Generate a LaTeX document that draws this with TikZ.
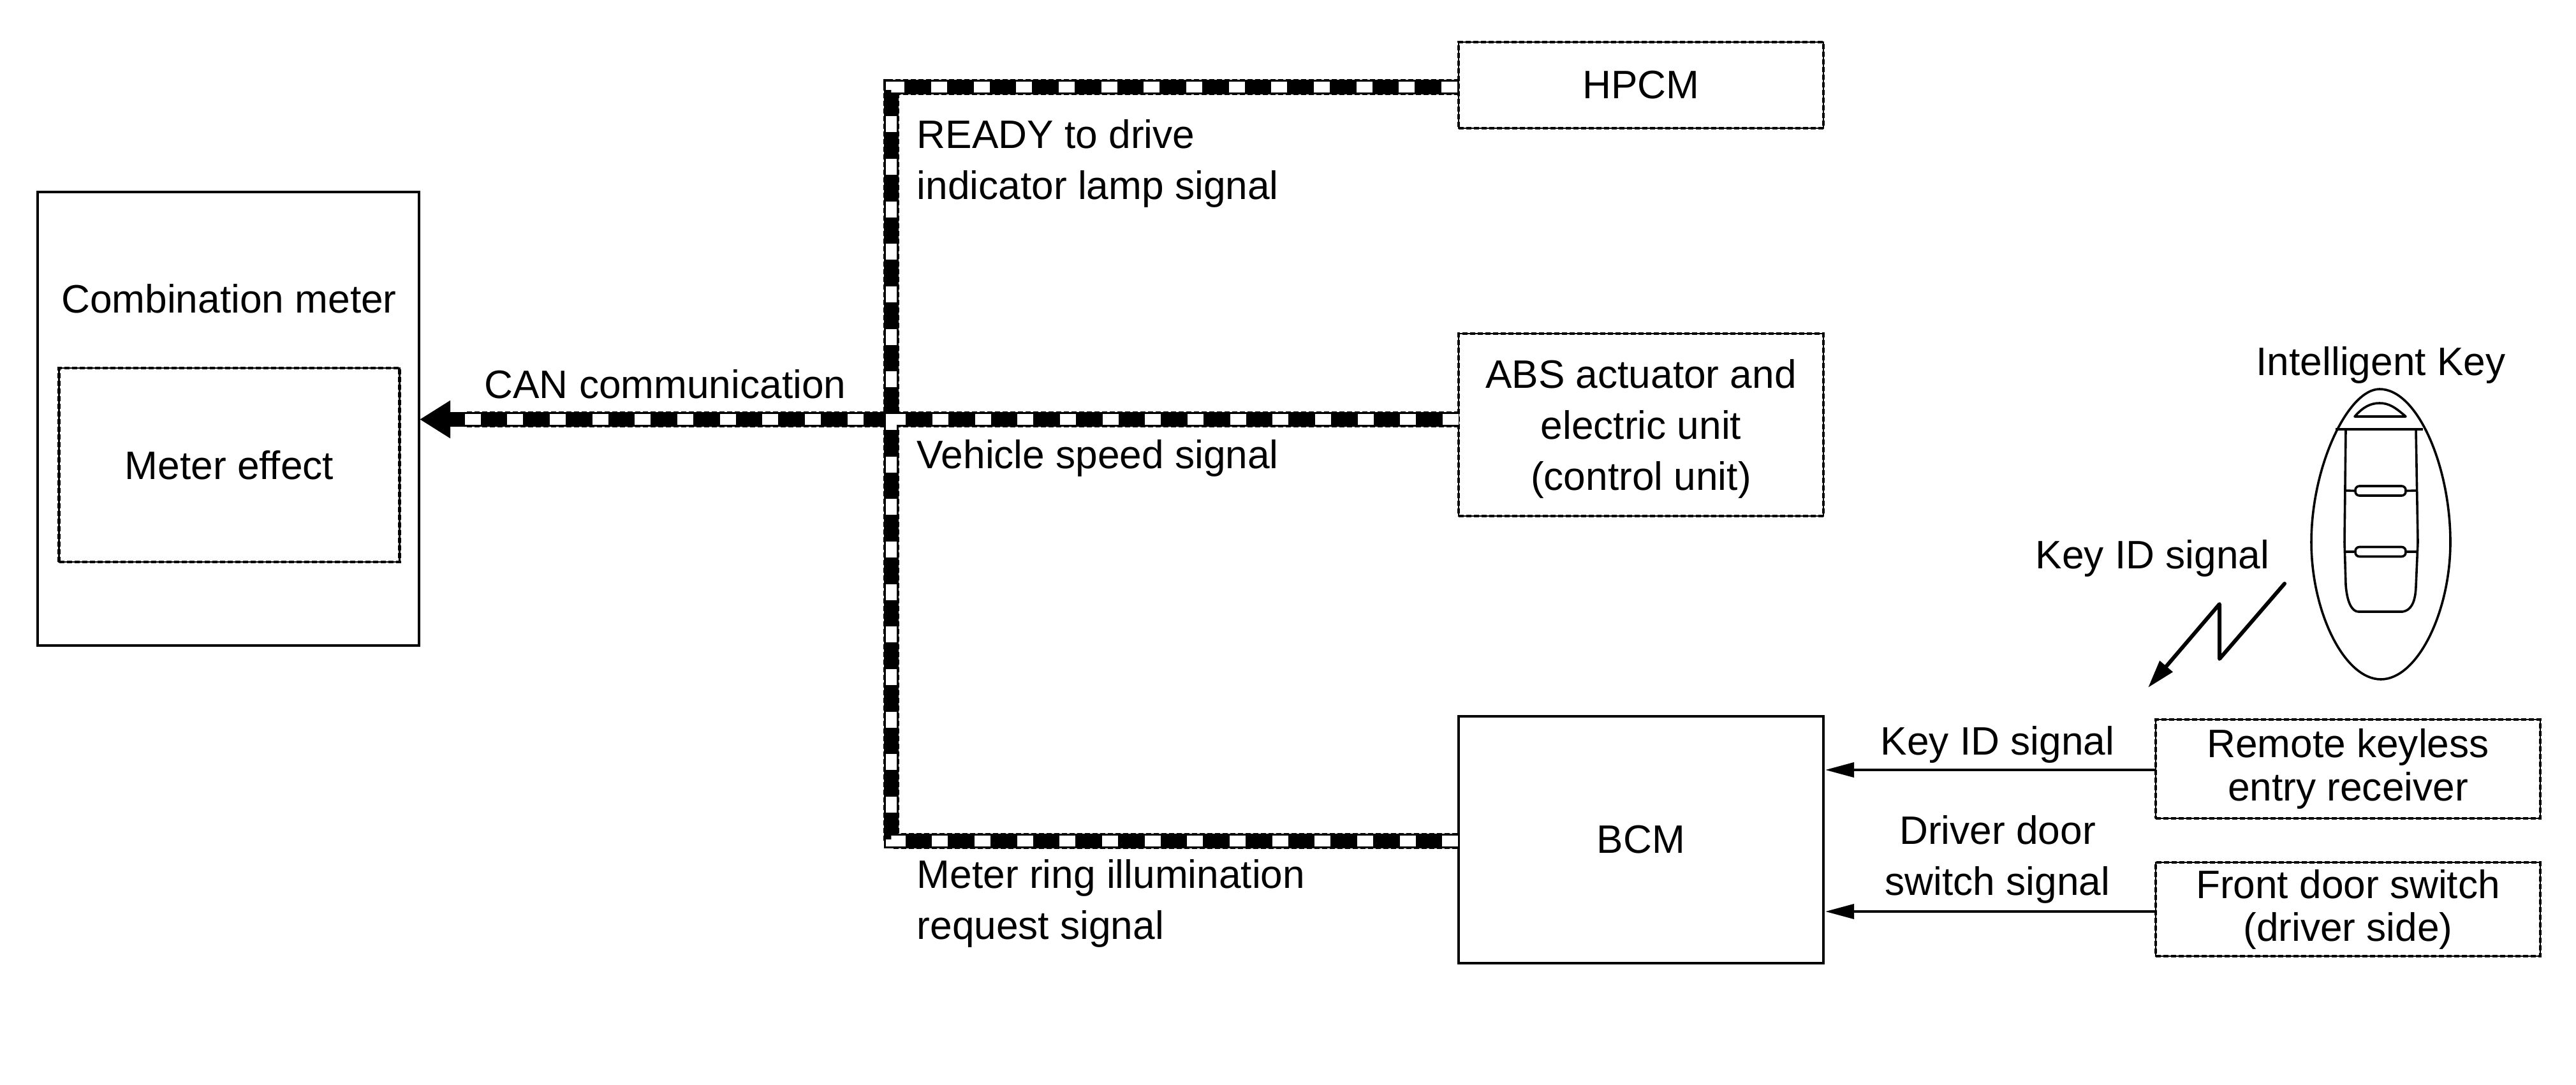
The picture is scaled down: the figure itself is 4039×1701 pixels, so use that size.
\documentclass[tikz,border=0pt]{standalone}
\usepackage{fontspec}
\setmainfont{Liberation Sans}
\usetikzlibrary{arrows.meta}
\newcommand{\bodyfont}{\fontsize{15.55}{20}\selectfont}
\newcommand{\tightfont}{\fontsize{15.55}{16.8}\selectfont}
\tikzset{
  txt/.style={inner sep=0pt,align=center,font=\bodyfont},
  ltxt/.style={inner sep=0pt,align=left,anchor=west,font=\bodyfont},
  solidbox/.style={draw,line width=0.9pt,inner sep=0pt,align=center,font=\bodyfont},
  dashbox/.style={solidbox,line width=0.7pt,preaction={draw,line width=1.2pt,dash pattern=on 2pt off 1pt}},
  busedge/.style={line width=6.3pt,dash pattern=on 2pt off 1pt},
  busbase/.style={line width=5.9pt},
  buswhite/.style={white,line width=4.2pt,dash pattern=on 6.25pt off 10.417pt},
  sigarrow/.style={line width=1pt,-{Triangle[length=11.25pt,width=5.75pt]}},
  keyline/.style={line width=0.9pt,line join=round},
  keybtn/.style={draw,line width=0.9pt,rounded corners=1.6pt,inner sep=0pt,minimum width=19.75pt,minimum height=3.75pt},
}
\begin{document}
\begin{tikzpicture}[x=0.25pt,y=-0.25pt]
\useasboundingbox (0,0) rectangle (4039,1701);
% boxes
\node[dashbox,minimum width=143pt,minimum height=33.75pt] (hpcm) at (2573,133.5) {HPCM};
\node[dashbox,minimum width=143pt,minimum height=71.5pt] (abs) at (2573,666) {};
\node[txt] (abslabel) at (2573,672) {ABS actuator and\\electric unit\\(control unit)};
\node[solidbox,minimum width=143pt,minimum height=96.75pt] (bcm) at (2573,1316.5) {BCM};
\node[solidbox,minimum width=149.5pt,minimum height=177.75pt] (combo) at (358,656.5) {};
\node[dashbox,minimum width=133.5pt,minimum height=76pt] (meter) at (359.5,729) {Meter effect};
\node[txt] (combolabel) at (359,468) {Combination meter};
\node[dashbox,minimum width=150.75pt,minimum height=38.75pt,font=\tightfont] (remote) at (3681.5,1205.5) {Remote keyless\\entry receiver};
\node[dashbox,minimum width=150.75pt,minimum height=36.75pt,font=\tightfont] (door) at (3681.5,1425.5) {Front door switch\\(driver side)};
% bus
\coordinate (hport) at (2288,136.5);
\coordinate (aport) at (2288,657.5);
\coordinate (bport) at (2288,1318.5);
\coordinate (cport) at (658,657.5);
\coordinate (cend) at (728,657.5);
\coordinate (ctop) at (1397.5,136.5);
\coordinate (cbot) at (1397.5,1318.5);
\draw[busedge] (hport) -- (ctop) -- (cbot) -- (bport);
\draw[busedge] (aport) -- (cend);
\draw[busbase] (hport) -- (ctop) -- (cbot) -- (bport);
\draw[busbase,-{Triangle[length=12pt,width=14pt]}] (aport) -- (cport);
\draw[buswhite,dash phase=15.92pt] (hport) -- (ctop) -- (cbot) -- (bport);
\draw[buswhite,dash phase=16.42pt] (aport) -- (cend);
% bus labels
\node[txt] (can) at (1043,602) {CAN communication};
\node[ltxt] (ready) at (1437,256) {READY to drive\\indicator lamp signal};
\node[ltxt] (speed) at (1437,718) {Vehicle speed signal};
\node[ltxt] (ring) at (1437,1416) {Meter ring illumination\\request signal};
% right side
\coordinate (rport) at (3380,1207);
\coordinate (bcmr) at (2862,1207);
\coordinate (dport) at (3380,1429);
\coordinate (bcmd) at (2862,1429);
\draw[sigarrow] (rport) -- (bcmr);
\draw[sigarrow] (dport) -- (bcmd);
\node[txt] (kid) at (3132,1167) {Key ID signal};
\node[txt] (dd) at (3132,1347) {Driver door\\switch signal};
\node[txt] (kid2) at (3375,875) {Key ID signal};
\node[txt] (ik) at (3733,572) {Intelligent Key};
% key fob
\begin{scope}[keyline]
\draw (3731,610) .. controls (3790,610) and (3842,730) .. (3842,850) .. controls (3842,960) and (3790,1065) .. (3733,1065) .. controls (3676,1065) and (3624,960) .. (3624,850) .. controls (3624,730) and (3682,610) .. cycle;
\draw (3662,673) -- (3799,673);
\draw (3692,653) -- (3772,653) .. controls (3755,638) and (3745,632) .. (3731,632) .. controls (3717,632) and (3705,638) .. cycle;
\draw (3678,673) -- (3676,850) -- (3678,917) .. controls (3680,945) and (3688,959) .. (3698,959) -- (3767,959) .. controls (3780,957) and (3787,945) .. (3788,920) -- (3791,850) -- (3788,673);
\end{scope}
\node[keybtn] (btna) at (3732.5,769.5) {};
\node[keybtn] (btnb) at (3732.5,865) {};
\draw[keyline] (btna.west) -- (3677,769);
\draw[keyline] (btna.east) -- (3790,769);
\draw[keyline] (btnb.west) -- (3677,865);
\draw[keyline] (btnb.east) -- (3790,865);
% radio signal
\coordinate (rfa) at (3582,915);
\coordinate (rfb) at (3480,1033);
\coordinate (rfc) at (3480,947);
\coordinate (rfd) at (3368,1078);
\draw[line width=1.5pt,line join=round,line cap=round,-{Triangle[length=11pt,width=6.4pt]}] (rfa) -- (rfb) -- (rfc) -- (rfd);
\end{tikzpicture}
\end{document}
